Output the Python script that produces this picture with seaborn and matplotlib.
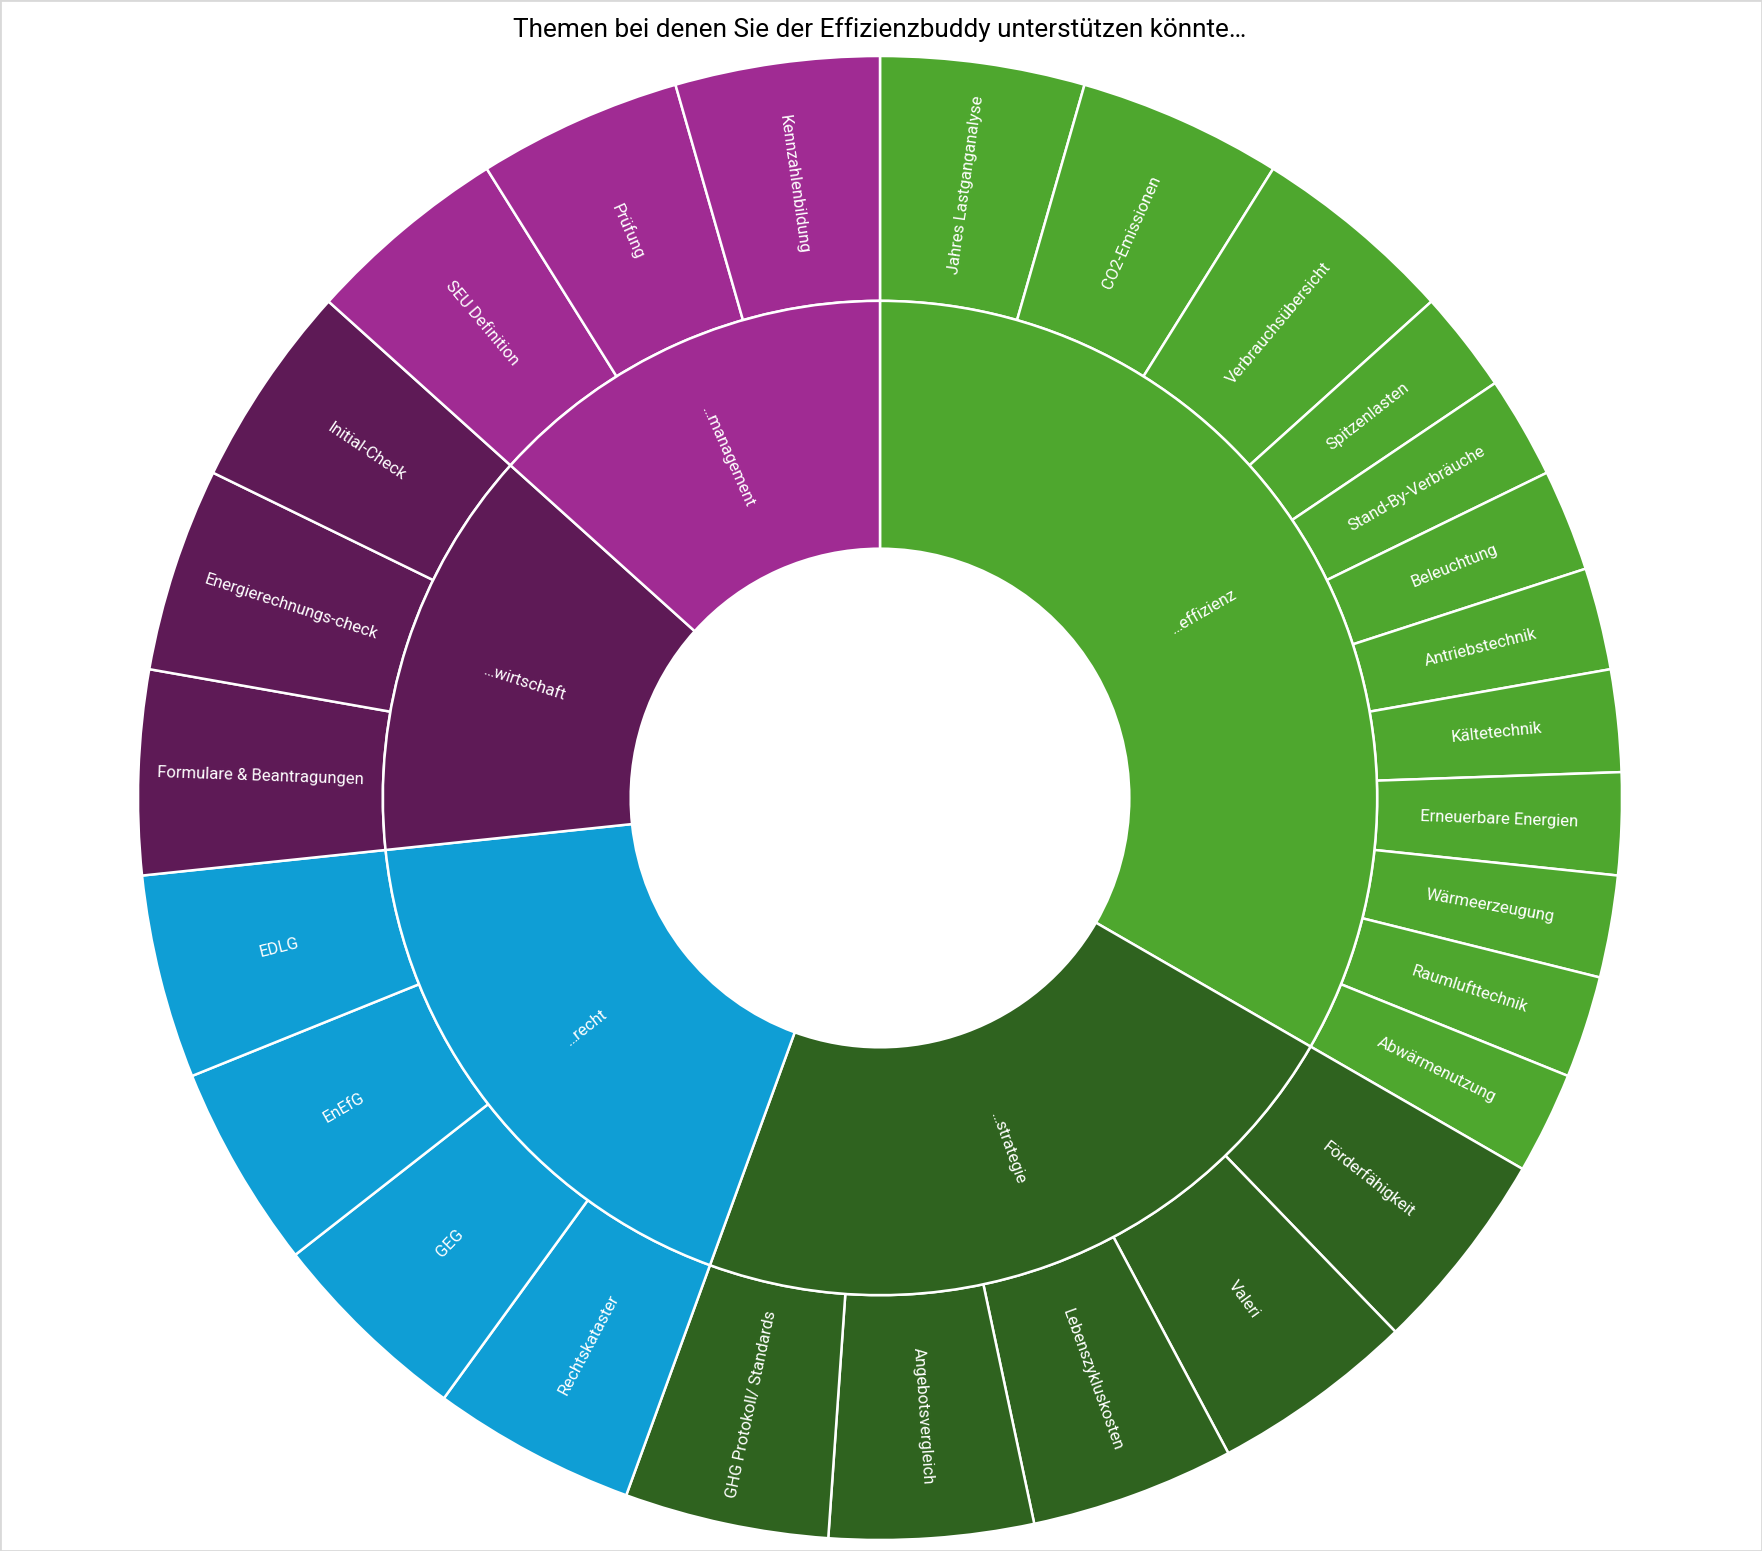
import numpy as np
import matplotlib
matplotlib.use("Agg")
import matplotlib.pyplot as plt
from matplotlib.patches import Rectangle
import seaborn as sns

# Daten: innerer Ring (Kategorien) und äußerer Ring (Themen)
kategorien = ["…effizienz", "…strategie", "…recht", "…wirtschaft", "…management"]
farben = ["#4EA72E", "#2F631F", "#0F9ED5", "#5E1A56", "#A02B93"]

effizienz_themen = ["Jahres Lastganganalyse", "CO2-Emissionen", "Verbrauchsübersicht",
                    "Spitzenlasten", "Stand-By-Verbräuche", "Beleuchtung", "Antriebstechnik",
                    "Kältetechnik", "Erneuerbare Energien", "Wärmeerzeugung",
                    "Raumlufttechnik", "Abwärmenutzung"]
effizienz_werte = [2, 2, 2, 1, 1, 1, 1, 1, 1, 1, 1, 1]

strategie_themen = ["Förderfähigkeit", "Valeri", "Lebenszykluskosten",
                    "Angebotsvergleich", "GHG Protokoll/ Standards"]
strategie_werte = [2, 2, 2, 2, 2]

recht_themen = ["Rechtskataster", "GEG", "EnEfG", "EDLG"]
recht_werte = [2, 2, 2, 2]

wirtschaft_themen = ["Formulare & Beantragungen", "Energierechnungs-check", "Initial-Check"]
wirtschaft_werte = [2, 2, 2]

management_themen = ["SEU Definition", "Prüfung", "Kennzahlenbildung"]
management_werte = [2, 2, 2]

titel = "Themen bei denen Sie der Effizienzbuddy unterstützen könnte…"

sns.set_theme(style="white")
plt.rcParams["font.family"] = ["Roboto", "DejaVu Sans"]

themen_gruppen = [effizienz_themen, strategie_themen, recht_themen, wirtschaft_themen, management_themen]
werte_gruppen = [effizienz_werte, strategie_werte, recht_werte, wirtschaft_werte, management_werte]

aussen_labels = sum(themen_gruppen, [])
aussen_werte = sum(werte_gruppen, [])
aussen_farben = [farben[i] for i, g in enumerate(werte_gruppen) for _ in g]
innen_werte = [sum(g) for g in werte_gruppen]

W, H = 1762, 1551
fig = plt.figure(figsize=(W / 100, H / 100), dpi=100)
cx, cy, R = 880, 753, 742
ax = fig.add_axes([(cx - R) / W, (cy - R) / H, 2 * R / W, 2 * R / H])

r_aussen, r_mitte, r_loch = 1.0, 0.67, 0.336
kante = dict(edgecolor="white", linewidth=1.8)

w_aussen, _ = ax.pie(aussen_werte, radius=r_aussen, colors=aussen_farben,
                     startangle=90, counterclock=False,
                     wedgeprops=dict(width=r_aussen - r_mitte, **kante))
w_innen, _ = ax.pie(innen_werte, radius=r_mitte, colors=farben,
                    startangle=90, counterclock=False,
                    wedgeprops=dict(width=r_mitte - r_loch, **kante))


def beschriften(wedges, labels, r):
    for w, lab in zip(wedges, labels):
        theta = (w.theta1 + w.theta2) / 2
        t = np.deg2rad(theta)
        rot = theta % 360
        if 90 < rot < 270:
            rot -= 180
        ax.text(r * np.cos(t), r * np.sin(t), lab, rotation=rot,
                rotation_mode="anchor", ha="center", va="center",
                color="white", fontsize=12)


beschriften(w_aussen, aussen_labels, (r_aussen + r_mitte) / 2)
beschriften(w_innen, kategorien, (r_mitte + r_loch) / 2)

ax.set_xlim(-1, 1)
ax.set_ylim(-1, 1)
ax.set_position([(cx - R) / W, (cy - R) / H, 2 * R / W, 2 * R / H])
ax.axis("off")

fig.text(0.4994, 0.981, titel, ha="center", va="center", fontsize=18.8, color="black")
fig.patches.append(Rectangle((0, 0), 1, 1, transform=fig.transFigure, fill=False,
                             edgecolor="#D9D9D9", linewidth=2))

fig.savefig("out.png", dpi=100, facecolor="white")
